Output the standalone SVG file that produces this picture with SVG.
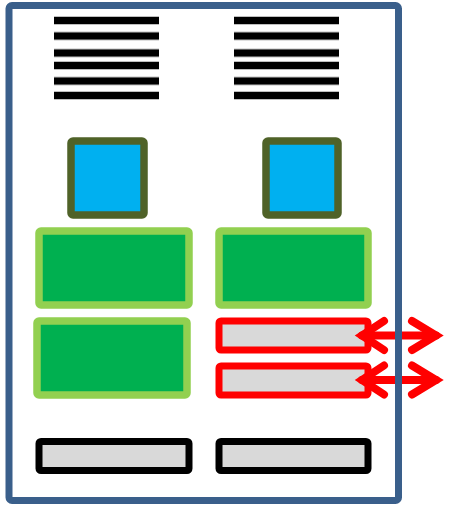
<svg xmlns="http://www.w3.org/2000/svg" width="452" height="505" viewBox="0 0 452 505">
  <style>
    .bar { fill: #000000; stroke: #BFBFBF; stroke-width: 1; stroke-dasharray: 105 8; }
    .cpu { fill: #00B0F0; stroke: #4F6228; stroke-width: 7.5; }
    .mem { fill: #00B050; stroke: #92D050; stroke-width: 7.5; }
    .io { fill: #D9D9D9; stroke: #FF0000; stroke-width: 7; }
    .disk { fill: #D9D9D9; stroke: #000000; stroke-width: 7; }
    .arr { fill: none; stroke: #FF0000; stroke-width: 8; stroke-linecap: round; stroke-linejoin: miter; }
  </style>
  <rect x="0" y="0" width="452" height="505" fill="#FFFFFF"/>
  <rect id="frame-bg" x="9" y="5.5" width="389.5" height="495" rx="3" fill="#FFFFFF"/>

  <g id="vents-left">
    <rect class="bar" x="54" y="16.5" width="105" height="8"/>
    <rect class="bar" x="54" y="32" width="105" height="8"/>
    <rect class="bar" x="54" y="49" width="105" height="8"/>
    <rect class="bar" x="54" y="61.5" width="105" height="8"/>
    <rect class="bar" x="54" y="77" width="105" height="8"/>
    <rect class="bar" x="54" y="91.5" width="105" height="8"/>
  </g>
  <g id="vents-right">
    <rect class="bar" x="234" y="16.5" width="105" height="8"/>
    <rect class="bar" x="234" y="32" width="105" height="8"/>
    <rect class="bar" x="234" y="49" width="105" height="8"/>
    <rect class="bar" x="234" y="61.5" width="105" height="8"/>
    <rect class="bar" x="234" y="77" width="105" height="8"/>
    <rect class="bar" x="234" y="91.5" width="105" height="8"/>
  </g>

  <g id="cpu-left"><rect class="cpu" x="71" y="141" width="73" height="74" rx="2"/></g>
  <g id="cpu-right"><rect class="cpu" x="266" y="141" width="72" height="74" rx="2"/></g>

  <g id="mem-left-1"><rect class="mem" x="39" y="231" width="150" height="74" rx="2"/></g>
  <g id="mem-right-1"><rect class="mem" x="219" y="231" width="149" height="74" rx="2"/></g>
  <g id="mem-left-2"><rect class="mem" x="37" y="321" width="150" height="74" rx="2"/></g>

  <g id="io-1"><rect class="io" x="219" y="321" width="149" height="29" rx="2"/></g>
  <g id="io-2"><rect class="io" x="219" y="366" width="149" height="29" rx="2"/></g>

  <g id="disk-left"><rect class="disk" x="39" y="441.5" width="150" height="29" rx="2"/></g>
  <g id="disk-right"><rect class="disk" x="219" y="441.5" width="149" height="29" rx="2"/></g>

  <g id="connectors">
    <line class="arr" x1="362" y1="335.5" x2="436" y2="335.5"/>
    <polyline class="arr" points="384,321 362,335.5 384,350"/>
    <polyline class="arr" points="412,321 436,335.5 412,350"/>
    <line class="arr" x1="362" y1="380" x2="436" y2="380"/>
    <polyline class="arr" points="384,365.5 362,380 384,394.5"/>
    <polyline class="arr" points="412,365.5 436,380 412,394.5"/>
  </g>

  <g id="frame"><rect x="9" y="5.5" width="389.5" height="495" rx="3" fill="none" stroke="#3A5F8B" stroke-width="7"/></g>
</svg>
